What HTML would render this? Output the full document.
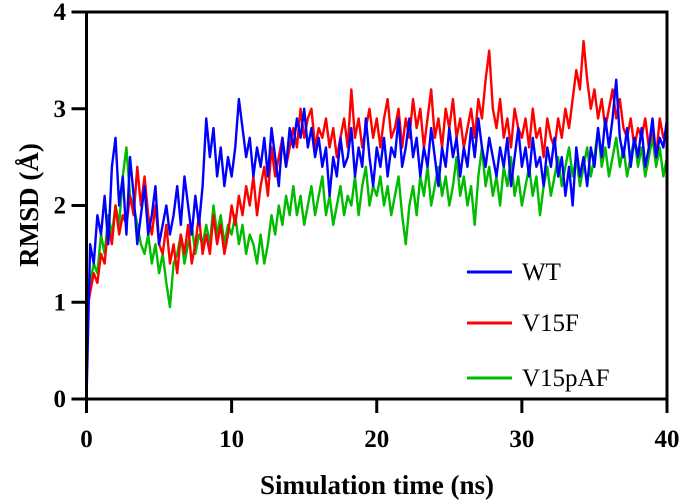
<!DOCTYPE html>
<html><head><meta charset="utf-8"><style>
html,body{margin:0;padding:0;background:#fff}
svg{display:block}
</style></head><body>
<svg id="chart" width="685" height="504" viewBox="0 0 685 504" xmlns="http://www.w3.org/2000/svg">
<g id="series"></g>
<g id="axes"></g>
</svg>
<script>
const xTicks=[0,10,20,30,40];
const yTicks=[0,1,2,3,4];
const seriesNames=["WT","V15F","V15pAF"];
const wt=[0,1.6,1.4,1.9,1.7,2.1,1.6,2.4,2.7,
2.0,2.3,1.7,2.5,2.1,1.6,1.9,2.2,
1.7,1.9,2.2,1.6,1.8,2.0,1.7,1.9,
2.2,1.8,2.3,2.0,1.7,2.1,1.8,2.2,
2.9,2.5,2.8,2.3,2.6,2.2,2.5,2.3,
2.6,3.1,2.8,2.5,2.7,2.3,2.6,2.4,
2.7,2.3,2.8,2.5,2.2,2.7,2.4,2.8,
2.6,2.9,2.7,3.0,2.6,2.8,2.5,2.7,
2.4,2.6,2.1,2.5,2.3,2.7,2.4,2.5,
2.8,2.3,2.6,2.4,2.9,2.5,2.2,2.6,
2.4,2.7,2.3,2.6,2.5,2.9,2.4,2.6,
2.9,2.5,2.7,2.3,2.6,2.4,2.8,2.5,
2.2,2.6,2.4,2.8,2.5,2.7,2.3,2.6,
2.4,2.8,2.5,2.9,2.6,2.4,2.7,2.5,
2.3,2.6,2.4,2.7,2.2,2.5,2.8,2.4,
2.6,2.3,2.7,2.4,2.5,2.2,2.6,2.4,
2.7,2.3,2.5,2.1,2.4,2.0,2.6,2.3,
2.5,2.2,2.6,2.4,2.8,2.5,2.9,2.6,
2.9,3.3,2.7,2.5,2.8,2.4,2.7,2.5,
2.8,2.4,2.6,2.9,2.5,2.7,2.6,2.9];
const v15f=[0.9,1.1,1.3,1.2,1.5,1.4,1.8,1.6,2.0,
1.7,1.9,1.8,2.1,1.9,2.4,2.0,2.3,
1.9,1.7,2.0,1.6,1.5,1.8,1.4,1.6,
1.3,1.7,1.5,1.8,1.4,1.6,1.9,1.5,
1.7,1.5,1.9,1.6,1.8,1.5,1.7,2.0,
1.8,2.1,1.9,2.2,2.0,2.3,1.9,2.2,
2.4,2.1,2.6,2.3,2.5,2.7,2.4,2.6,
2.8,2.6,3.0,2.7,2.9,3.0,2.6,2.8,
2.7,2.9,2.6,2.8,2.5,2.7,2.9,2.6,
3.2,2.7,2.9,2.6,2.8,3.0,2.7,2.9,
2.6,2.9,3.1,2.7,2.8,3.0,2.6,2.9,
2.7,3.1,2.8,3.0,2.6,2.9,3.2,2.7,
2.9,2.6,3.0,2.8,3.1,2.7,2.9,2.6,
2.8,3.0,2.7,3.1,2.9,3.3,3.6,3.0,
2.8,3.1,2.7,2.9,2.6,3.0,2.8,2.7,
2.9,2.6,3.0,2.7,2.8,2.5,2.9,2.7,
2.6,2.9,2.7,3.0,2.8,3.1,3.4,3.2,
3.7,3.3,3.0,3.2,2.9,3.1,2.8,3.0,
3.2,2.9,3.1,2.8,2.7,2.9,2.6,2.8,
2.7,2.9,2.6,2.8,2.5,2.9,2.7,2.8];
const v15paf=[1.0,1.2,1.4,1.3,1.7,1.5,1.9,1.7,2.0,
1.8,2.3,2.6,2.1,2.0,1.8,1.6,1.5,
1.7,1.4,1.6,1.3,1.5,1.2,0.95,1.4,
1.5,1.7,1.4,1.6,1.8,1.5,1.7,1.6,
1.8,1.6,2.0,1.7,1.9,1.6,1.8,1.7,
1.9,1.6,1.8,1.5,1.7,1.6,1.4,1.7,
1.4,1.6,1.9,1.7,2.0,1.8,2.1,1.9,
2.2,1.9,2.1,1.8,2.0,2.2,1.9,2.1,
2.3,1.9,2.1,1.8,2.0,2.2,1.9,2.1,
2.0,2.3,1.9,2.2,2.4,2.0,2.2,2.1,
2.3,2.0,2.2,1.9,2.1,2.3,1.9,1.6,
2.0,2.2,1.9,2.3,2.1,2.4,2.0,2.2,
2.4,2.1,2.3,2.0,2.2,2.5,2.1,2.3,
2.0,2.2,1.8,2.3,2.6,2.2,2.4,2.1,
2.3,2.0,2.4,2.2,2.5,2.1,2.3,2.0,
2.2,2.4,2.1,2.3,1.9,2.2,2.4,2.1,
2.3,2.5,2.2,2.4,2.6,2.3,2.5,2.2,
2.4,2.6,2.3,2.5,2.8,2.4,2.6,2.3,
2.5,2.7,2.4,2.6,2.3,2.5,2.7,2.4,
2.6,2.3,2.5,2.7,2.4,2.6,2.3,2.5];
const timeStep=0.25;

const NS="http://www.w3.org/2000/svg";
const X0=86.5,X1=667,Y0=399,Y1=12;
const xs=v=>X0+(v-0)/(40-0)*(X1-X0);
const ys=v=>Y0-(v-0)/(4-0)*(Y0-Y1);
function mk(tag,parent,attrs){const e=document.createElementNS(NS,tag);for(const k in attrs)e.setAttribute(k,attrs[k]);parent.appendChild(e);return e;}
const sg=document.getElementById('series');
const ag=document.getElementById('axes');
const colors={"WT":"#0000ff","V15F":"#ff0000","V15pAF":"#00bb00"};
const data={"WT":wt,"V15F":v15f,"V15pAF":v15paf};
["V15pAF","V15F","WT"].forEach(n=>{
  const d=data[n].map((v,i)=>(i?'L':'M')+xs(i*timeStep).toFixed(2)+' '+ys(v).toFixed(2)).join(' ');
  const p=mk('path',sg,{d:d,fill:'none',stroke:colors[n],'stroke-width':2.4,'stroke-linejoin':'round'});
  
  
});
const fr=mk('rect',ag,{x:X0,y:Y1,width:X1-X0,height:Y0-Y1,fill:'none',stroke:'#000','stroke-width':3});


const F='Liberation Serif, serif';
xTicks.forEach(t=>{
  const l=mk('line',ag,{x1:xs(t),x2:xs(t),y1:Y0,y2:Y0+14,stroke:'#000','stroke-width':3});
  
  
  const tx=mk('text',ag,{x:xs(t),y:447,'text-anchor':'middle','font-family':F,'font-weight':'bold','font-size':25});
  tx.textContent=t;
  
  
});
yTicks.forEach(t=>{
  const l=mk('line',ag,{x1:X0-15,x2:X0,y1:ys(t),y2:ys(t),stroke:'#000','stroke-width':3});
  
  
  const tx=mk('text',ag,{x:66,y:ys(t)+8,'text-anchor':'end','font-family':F,'font-weight':'bold','font-size':25});
  tx.textContent=t;
  
  
});
const xt=mk('text',ag,{x:377,y:494,'text-anchor':'middle','font-family':F,'font-weight':'bold','font-size':27});
xt.textContent='Simulation time (ns)';


const yt=mk('text',ag,{x:0,y:0,transform:'translate(38,205) rotate(-90)','text-anchor':'middle','font-family':F,'font-weight':'bold','font-size':27});
yt.textContent='RMSD (Å)';


const legY=[272,323,378];
seriesNames.forEach((n,i)=>{
  const l=mk('line',ag,{x1:467,x2:512,y1:legY[i],y2:legY[i],stroke:colors[n],'stroke-width':3});
  
  
  const tx=mk('text',ag,{x:522,y:legY[i]+8,'font-family':F,'font-size':25});
  tx.textContent=n;
  
  
});
</script>
</body></html>
